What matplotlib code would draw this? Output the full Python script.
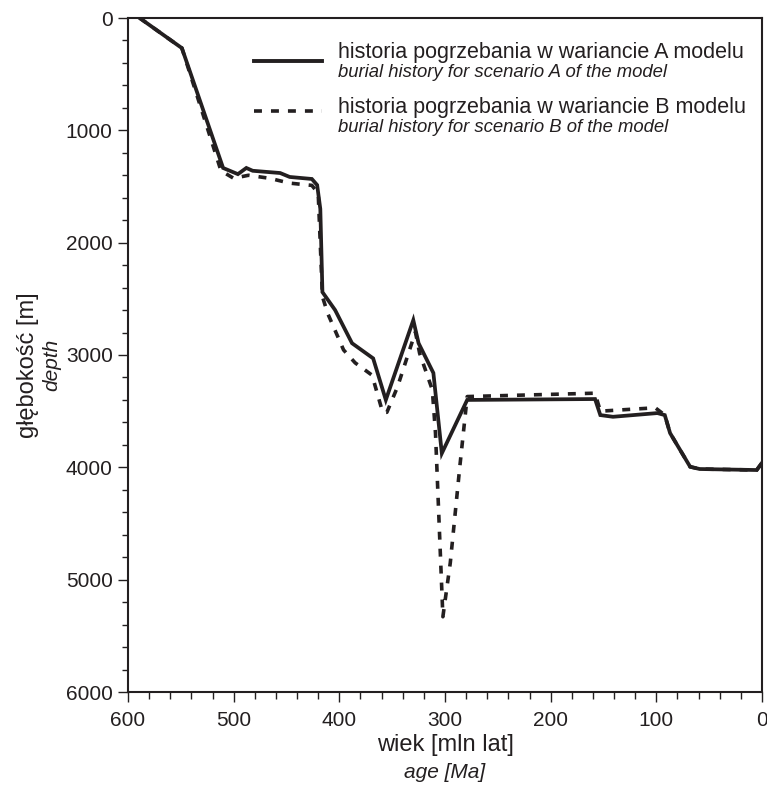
import matplotlib
matplotlib.use("Agg")
import matplotlib.pyplot as plt
from matplotlib.ticker import MultipleLocator

plt.rcParams['font.family'] = ['Liberation Sans', 'DejaVu Sans']

INK = '#231f20'

# Scenario A (solid)
age_a = [589, 549, 510, 496, 488, 482, 456, 447, 426, 421, 418, 416, 404, 388, 368,
         356, 330, 325, 311, 303, 279, 158, 153, 141, 99, 92, 87, 68, 59, 5, 0]
depth_a = [0, 268, 1335, 1390, 1335, 1360, 1380, 1415, 1433, 1487, 1700, 2440, 2600, 2895, 3030,
           3400, 2690, 2895, 3160, 3875, 3400, 3392, 3535, 3550, 3517, 3535, 3695, 3995, 4015, 4024, 3960]

# Scenario B (dashed)
age_b = [589, 549, 512, 500, 486, 466, 447, 426, 420, 416, 411, 396, 385, 369, 359,
         355, 345, 328, 324, 312, 309, 302, 295, 286, 279, 158, 153, 101, 92, 87, 68, 59, 5, 0]
depth_b = [0, 268, 1360, 1427, 1400, 1427, 1470, 1490, 1560, 2480, 2630, 2955, 3070, 3180, 3510,
           3510, 3285, 2795, 2985, 3310, 3695, 5330, 4850, 3995, 3370, 3340, 3500, 3470, 3535, 3695, 3995, 4015, 4024, 3960]

xticks = [600, 500, 400, 300, 200, 100, 0]
yticks = [0, 1000, 2000, 3000, 4000, 5000, 6000]

W, H = 767, 796
fig = plt.figure(figsize=(W / 100, H / 100), dpi=100)
ax = fig.add_axes([128 / W, 1 - 692 / H, (762 - 128) / W, (692 - 18) / H])

DASH = (0, (2.2, 2.5))
ax.plot(age_a, depth_a, color=INK, lw=2.7, solid_joinstyle='miter')
ax.plot(age_b, depth_b, color=INK, lw=2.6, linestyle=DASH)

ax.set_xlim(600, 0)
ax.set_ylim(6000, 0)
ax.set_xticks(xticks)
ax.set_yticks(yticks)
ax.xaxis.set_minor_locator(MultipleLocator(20))
ax.yaxis.set_minor_locator(MultipleLocator(200))
ax.tick_params(axis='x', which='major', direction='out', length=7.5, width=1.0, colors=INK,
               labelsize=15, pad=6)
ax.tick_params(axis='x', which='minor', direction='out', length=5, width=1.0, colors=INK)
ax.tick_params(axis='y', which='major', direction='out', length=7, width=1.0, colors=INK,
               labelsize=15, pad=4)
ax.tick_params(axis='y', which='minor', direction='out', length=4, width=1.0, colors=INK)
for s in ax.spines.values():
    s.set_linewidth(1.5)
    s.set_color(INK)

# Legend (manual)
def px2ax(x, y):
    return ((x - 128) / (762 - 128), 1 - (y - 18) / (692 - 18))

x0, y0 = px2ax(254, 61)
x1, _ = px2ax(322, 61)
ax.plot([x0, x1], [y0, y0], transform=ax.transAxes, color=INK, lw=2.8)
x0, y1 = px2ax(254, 111)
ax.plot([x0, x1], [y1, y1], transform=ax.transAxes, color=INK, lw=2.6, linestyle=DASH)

tx, ty = px2ax(338, 58)
ax.text(tx, ty, 'historia pogrzebania w wariancie A modelu', transform=ax.transAxes,
        fontsize=15.5, color=INK, va='baseline', ha='left')
tx, ty = px2ax(338, 77)
ax.text(tx, ty, 'burial history for scenario A of the model', transform=ax.transAxes,
        fontsize=13.3, style='italic', color=INK, va='baseline', ha='left')
tx, ty = px2ax(338, 113)
ax.text(tx, ty, 'historia pogrzebania w wariancie B modelu', transform=ax.transAxes,
        fontsize=15.5, color=INK, va='baseline', ha='left')
tx, ty = px2ax(338, 132)
ax.text(tx, ty, 'burial history for scenario B of the model', transform=ax.transAxes,
        fontsize=13.3, style='italic', color=INK, va='baseline', ha='left')

# Axis titles
fig.text(445 / W, 1 - 745 / H, 'wiek [mln lat]', fontsize=17, color=INK, ha='center', va='center')
fig.text(445 / W, 1 - 772 / H, 'age [Ma]', fontsize=15, style='italic', color=INK, ha='center', va='center')
fig.text(28 / W, 1 - 365 / H, 'głębokość [m]', fontsize=17, color=INK, ha='center', va='center', rotation=90)
fig.text(52 / W, 1 - 365 / H, 'depth', fontsize=15, style='italic', color=INK, ha='center', va='center', rotation=90)

fig.savefig('out.png', dpi=100)
